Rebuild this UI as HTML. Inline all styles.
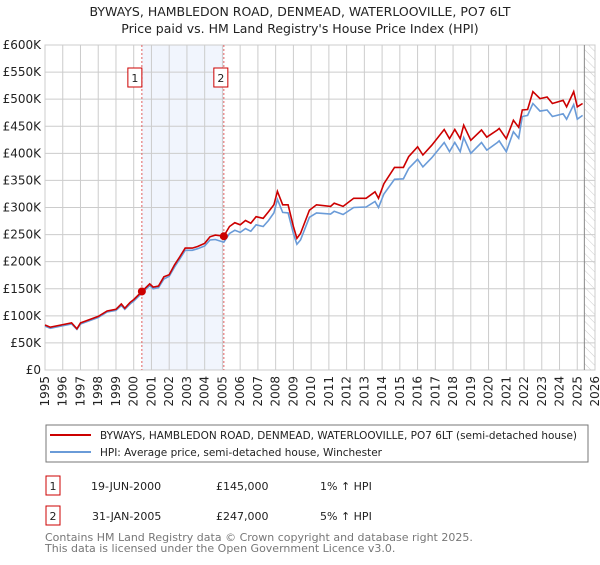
<!DOCTYPE html>
<html><head><meta charset="utf-8"><style>
body{margin:0;background:#fff;font-family:"Liberation Sans","DejaVu Sans",sans-serif;}
</style></head><body>
<svg id="chart" width="600" height="560" xmlns="http://www.w3.org/2000/svg" font-family="'DejaVu Sans','Liberation Sans',sans-serif">
<defs><pattern id="hatch" width="6" height="6" patternUnits="userSpaceOnUse" patternTransform="rotate(-45)"><line x1="0" y1="0" x2="0" y2="6" stroke="#ccc" stroke-width="1"/></pattern></defs>
<text x="300" y="16" text-anchor="middle" font-size="12.5" fill="#222">BYWAYS, HAMBLEDON ROAD, DENMEAD, WATERLOOVILLE, PO7 6LT</text>
<text x="300" y="33" text-anchor="middle" font-size="12.5" fill="#222">Price paid vs. HM Land Registry's House Price Index (HPI)</text>
<g id="grid"></g><g id="marks"></g><g id="axes"></g>
<rect x="46" y="425" width="542" height="37" fill="#fff" stroke="#777"/>
<line x1="50" y1="435" x2="91" y2="435" stroke="#cc0000" stroke-width="2"/>
<text x="100" y="439" font-size="10.5" textLength="477" lengthAdjust="spacingAndGlyphs" fill="#222">BYWAYS, HAMBLEDON ROAD, DENMEAD, WATERLOOVILLE, PO7 6LT (semi-detached house)</text>
<line x1="50" y1="452" x2="91" y2="452" stroke="#6a9bd8" stroke-width="2"/>
<text x="100" y="456" font-size="10.5" textLength="282" lengthAdjust="spacingAndGlyphs" fill="#222">HPI: Average price, semi-detached house, Winchester</text>
<g font-size="11" fill="#222">
<rect x="46" y="476" width="14" height="19" fill="#fff" stroke="#cc0000"/>
<text x="53" y="490" text-anchor="middle">1</text>
<text x="91" y="490">19-JUN-2000</text>
<text x="216" y="490">£145,000</text>
<text x="320" y="490">1% ↑ HPI</text>
<rect x="46" y="506" width="14" height="19" fill="#fff" stroke="#cc0000"/>
<text x="53" y="520" text-anchor="middle">2</text>
<text x="92" y="520">31-JAN-2005</text>
<text x="216" y="520">£247,000</text>
<text x="320" y="520">5% ↑ HPI</text>
</g>
<text x="45" y="541" font-size="11" fill="#777">Contains HM Land Registry data © Crown copyright and database right 2025.</text>
<text x="45" y="552" font-size="11" fill="#777">This data is licensed under the Open Government Licence v3.0.</text>
</svg>
<script>
const yTicks=[0,50,100,150,200,250,300,350,400,450,500,550,600];
const yTickLabels=["£0","£50K","£100K","£150K","£200K","£250K","£300K","£350K","£400K","£450K","£500K","£550K","£600K"];
const xYears=[1995,1996,1997,1998,1999,2000,2001,2002,2003,2004,2005,2006,2007,2008,2009,2010,2011,2012,2013,2014,2015,2016,2017,2018,2019,2020,2021,2022,2023,2024,2025,2026];
const redT=[1995.0,1995.3,1995.9,1996.5,1996.8,1997.0,1997.5,1998.0,1998.5,1999.0,1999.3,1999.5,1999.8,2000.0,2000.46,2000.9,2001.1,2001.4,2001.7,2002.0,2002.3,2002.6,2002.9,2003.3,2003.6,2004.0,2004.3,2004.6,2005.08,2005.4,2005.7,2006.0,2006.3,2006.6,2006.9,2007.3,2007.6,2007.9,2008.1,2008.4,2008.7,2009.0,2009.2,2009.4,2009.9,2010.3,2011.1,2011.3,2011.8,2012.4,2013.1,2013.6,2013.8,2014.1,2014.7,2015.2,2015.5,2016.0,2016.3,2016.8,2017.5,2017.8,2018.1,2018.4,2018.6,2019.0,2019.6,2019.9,2020.5,2020.6,2021.0,2021.4,2021.7,2021.9,2022.2,2022.5,2022.9,2023.3,2023.6,2024.2,2024.4,2024.8,2025.0,2025.3];
const redV=[83,79,83,87,76,87,93,99,109,112,122,114,125,130,145,159,153,155,172,176,194,209,225,225,228,234,246,249,247,265,272,268,276,271,283,280,292,305,330,305,305,265,243,252,295,305,302,308,302,317,317,329,317,344,374,374,394,412,397,415,444,427,444,427,452,424,443,430,443,446,427,461,448,480,481,514,501,504,492,498,486,514,486,492];
const blueV=[81,77,81,85,75,85,91,97,107,110,119,112,122,127,142,156,150,152,168,173,190,205,221,221,224,229,240,241,236,252,258,254,261,256,268,265,276,290,315,291,290,252,232,240,282,290,288,293,287,300,301,311,300,325,352,353,372,389,375,392,420,403,420,403,429,400,420,406,420,423,403,440,428,468,470,492,478,480,468,473,463,490,463,470];
const sales=[[2000.46,145],[2005.08,247]];
const L=45,R=595,T=45,B=370,Y0=1995,Y1=2026;
const xs=t=>L+(t-Y0)*(R-L)/(Y1-Y0);
const ys=v=>B-v*(B-T)/600;
const NS='http://www.w3.org/2000/svg';
function mk(p,tag,a){const e=document.createElementNS(NS,tag);for(const k in a)e.setAttribute(k,a[k]);p.appendChild(e);return e;}
const grid=document.getElementById('grid'),marks=document.getElementById('marks'),axes=document.getElementById('axes');
let r=mk(grid,'rect',{x:L,y:T,width:R-L,height:B-T,fill:'#fff',stroke:'#ccc'});


r=mk(grid,'rect',{x:xs(sales[0][0]),y:T,width:xs(sales[1][0])-xs(sales[0][0]),height:B-T,fill:'#eef3fc',opacity:0.8});


r=mk(grid,'rect',{x:xs(2025.4),y:T,width:R-xs(2025.4),height:B-T,fill:'url(#hatch)'});


xYears.forEach(y=>{const l=mk(grid,'line',{x1:xs(y),x2:xs(y),y1:T,y2:B,stroke:'#ccc'});


const t=mk(axes,'text',{x:0,y:0,transform:`translate(${xs(y)+4},${B+6}) rotate(-90)`,'text-anchor':'end','font-size':12,fill:'#222'});t.textContent=y;

});
yTicks.forEach((v,i)=>{const l=mk(grid,'line',{x1:L,x2:R,y1:ys(v),y2:ys(v),stroke:'#ccc'});


const t=mk(axes,'text',{x:L-4,y:ys(v)+4,'text-anchor':'end','font-size':12,fill:'#222'});t.textContent=yTickLabels[i];

});
let dl=mk(grid,'line',{x1:xs(2025.4),x2:xs(2025.4),y1:T,y2:B,stroke:'#888'});


sales.forEach((s,i)=>{const l=mk(marks,'line',{x1:xs(s[0]),x2:xs(s[0]),y1:T,y2:B,stroke:'#e06060','stroke-dasharray':'2,2'});


const bx=mk(marks,'rect',{x:xs(s[0])-(i?10:14),y:68,width:14,height:19,fill:'#fff',stroke:'#cc0000'});


const t=mk(marks,'text',{x:xs(s[0])-(i?3:7),y:82,'text-anchor':'middle','font-size':11,fill:'#222'});t.textContent=i+1;

});
const path=v=>v.map((d,i)=>(i?'L':'M')+xs(redT[i]).toFixed(1)+','+ys(d).toFixed(1)).join('');
let pb=mk(marks,'path',{d:path(blueV),fill:'none',stroke:'#6a9bd8','stroke-width':1.6});


let pr=mk(marks,'path',{d:path(redV),fill:'none',stroke:'#cc0000','stroke-width':1.6});


sales.forEach((s,i)=>{const c=mk(marks,'circle',{cx:xs(s[0]),cy:ys(s[1]),r:4,fill:'#cc0000'});

});
</script>
</body></html>
